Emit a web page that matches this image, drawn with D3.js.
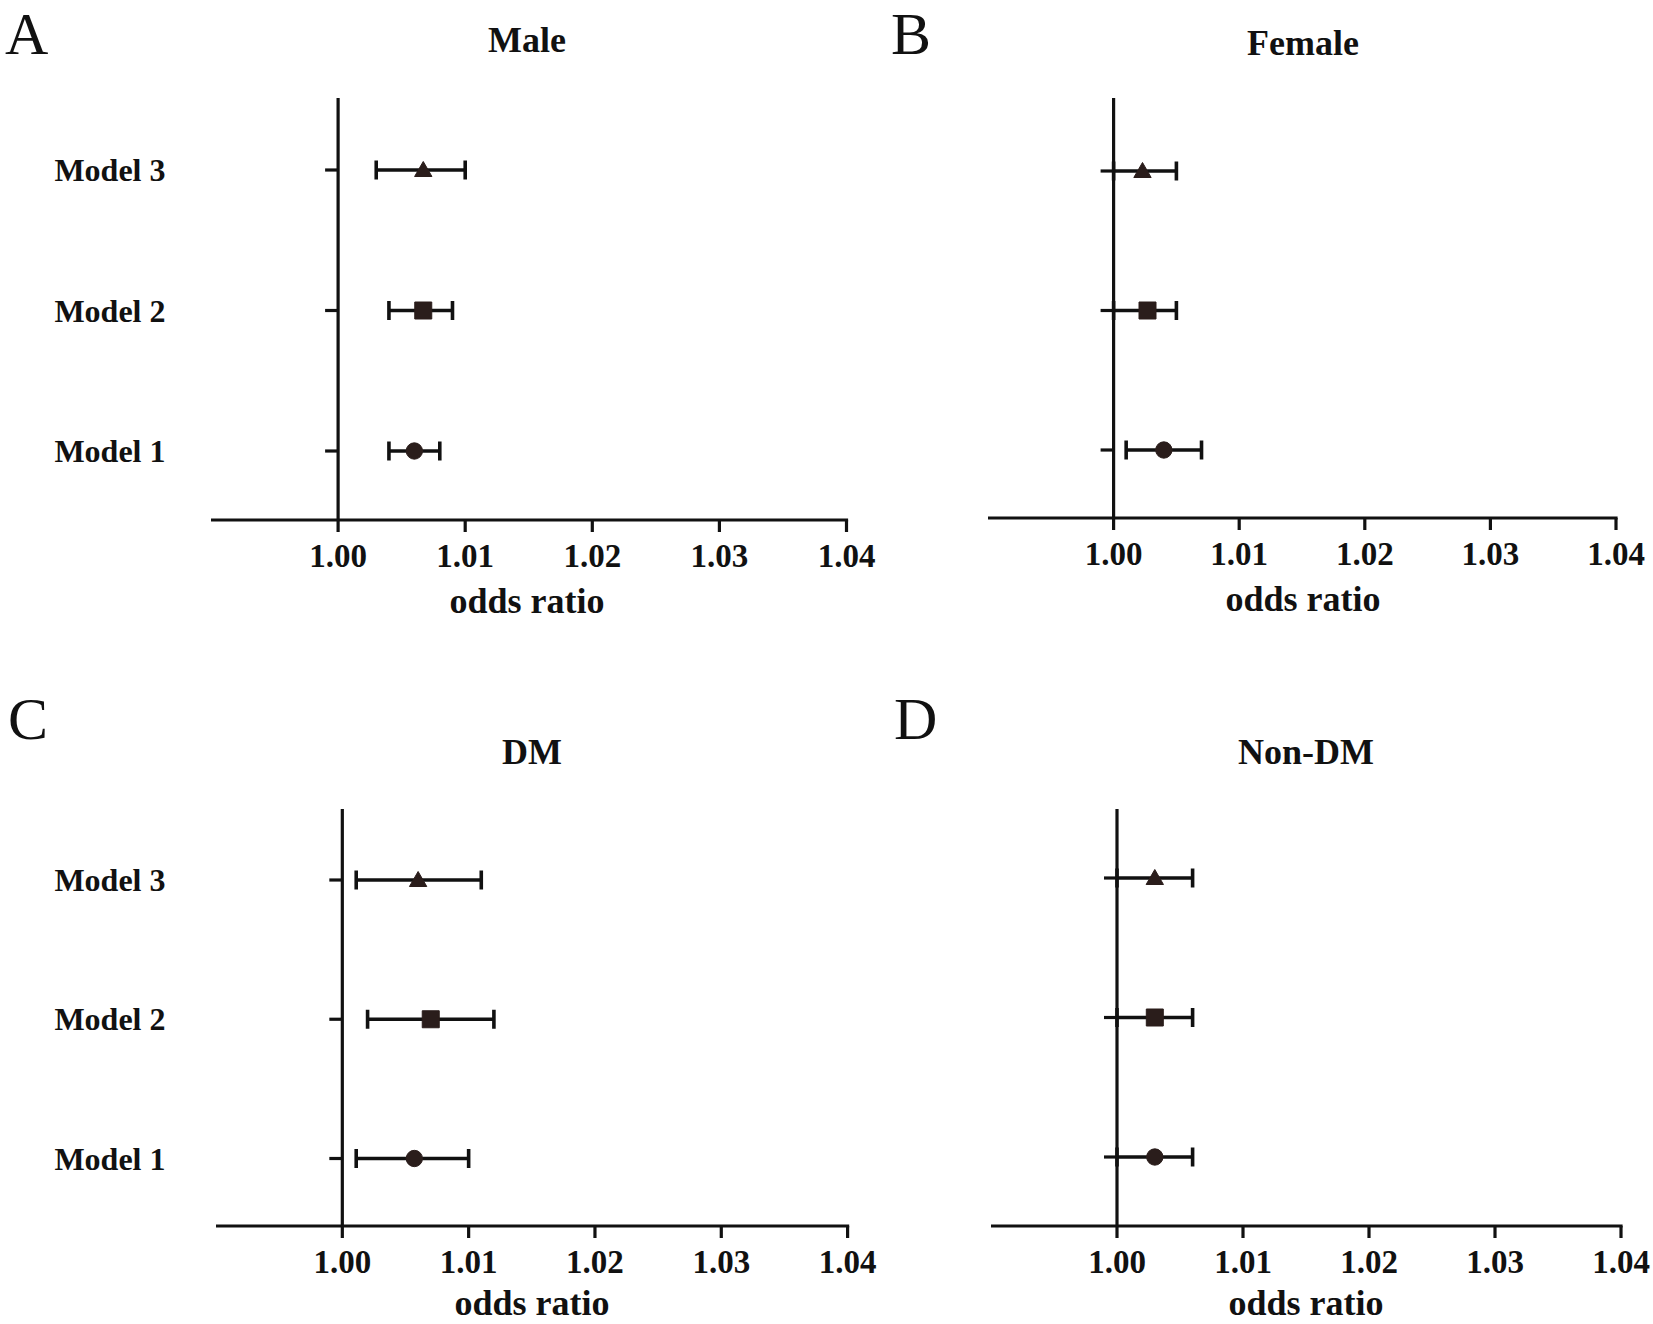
<!DOCTYPE html>
<html>
<head>
<meta charset="utf-8">
<script src="https://cdn.jsdelivr.net/npm/d3@7"></script>
<style>
  body { margin: 0; background: #fff; }
  svg text { font-family: "Liberation Serif", "Times New Roman", serif; fill: #111; }
</style>
</head>
<body>
<svg id="chart" width="1653" height="1324"></svg>
<script>

  // data
  var panelLetters = ["A", "B", "C", "D"];
  var panelTitles = ["Male", "Female", "DM", "Non-DM"];
  var models = ["Model 3", "Model 2", "Model 1"];
  var xTicks = [1.00, 1.01, 1.02, 1.03, 1.04];
  var xDomain = [0.99, 1.04];

  // one row per panel, values in the order of models
  var orEstimate = [
    [1.0067, 1.0067, 1.0060],
    [1.0023, 1.0027, 1.0040],
    [1.0060, 1.0070, 1.0057],
    [1.0030, 1.0030, 1.0030]
  ];
  var orLower = [
    [1.0030, 1.0040, 1.0040],
    [1.0000, 1.0000, 1.0010],
    [1.0011, 1.0020, 1.0011],
    [1.0000, 1.0000, 1.0000]
  ];
  var orUpper = [
    [1.0100, 1.0090, 1.0080],
    [1.0050, 1.0050, 1.0070],
    [1.0110, 1.0120, 1.0100],
    [1.0060, 1.0060, 1.0060]
  ];

  // marker shape per model (triangle, square, circle)
  var shapes = [d3.symbolTriangle, d3.symbolSquare, d3.symbolCircle];
  var shapeSize = [130, 289, 210];
  var shapeShift = [1.5, 0, 0];

  // where each panel sits on the page
  var layout = [
    {left: 211, right: 846.5, base: 520, top: 98,  rows: [170, 451],   titleX: 527,  titleY: 52,  xlabY: 613,  letterX: 5,   letterY: 54,  labels: true},
    {left: 988, right: 1616,  base: 518, top: 98,  rows: [171, 450],   titleX: 1303, titleY: 55,  xlabY: 611,  letterX: 891, letterY: 54,  labels: false},
    {left: 216, right: 847.6, base: 1226, top: 809, rows: [880, 1158.5], titleX: 532,  titleY: 764, xlabY: 1315, letterX: 8,   letterY: 739, labels: true},
    {left: 991, right: 1621,  base: 1226, top: 809, rows: [878, 1157],  titleX: 1306, titleY: 764, xlabY: 1315, letterX: 894, letterY: 739, labels: false}
  ];

  var svg = d3.select("#chart");
  var ink = "#111";
  var markInk = "#2a1d1b";
  var axisW = 3.2, barW = 3.6;

  panelTitles.forEach(function(title, p) {

    var L = layout[p];
    var g = svg.append("g").attr("class", "panel panel" + p);

    var x = d3.scaleLinear().domain(xDomain).range([L.left, L.right]);
    var y = d3.scalePoint().domain(models).range(L.rows);

    var x0 = x(1.00);

    // panel letter and title
    g.append("text")
      .attr("x", L.letterX).attr("y", L.letterY)
      .attr("font-size", "60px")
      .text(panelLetters[p]);

    g.append("text")
      .attr("x", L.titleX).attr("y", L.titleY)
      .attr("text-anchor", "middle")
      .attr("font-size", "36px").attr("font-weight", "bold")
      .text(title);

    // y axis sits at OR = 1
    g.append("line")
      .attr("x1", x0).attr("x2", x0)
      .attr("y1", L.top).attr("y2", L.base)
      .attr("stroke", ink).attr("stroke-width", axisW);

    g.append("line")
      .attr("x1", L.left).attr("x2", L.right + axisW / 2)
      .attr("y1", L.base).attr("y2", L.base)
      .attr("stroke", ink).attr("stroke-width", axisW);

    // x ticks + labels
    g.selectAll(".xtick").data(xTicks).enter().append("line")
      .attr("class", "xtick")
      .attr("x1", function(d) { return x(d); })
      .attr("x2", function(d) { return x(d); })
      .attr("y1", L.base).attr("y2", L.base + 12)
      .attr("stroke", ink).attr("stroke-width", axisW);

    g.selectAll(".xlabel").data(xTicks).enter().append("text")
      .attr("class", "xlabel")
      .attr("x", function(d) { return x(d); })
      .attr("y", L.base + 47)
      .attr("text-anchor", "middle")
      .attr("font-size", "33px").attr("font-weight", "bold")
      .text(function(d) { return d3.format(".2f")(d); });

    g.append("text")
      .attr("x", L.titleX).attr("y", L.xlabY)
      .attr("text-anchor", "middle")
      .attr("font-size", "36px").attr("font-weight", "bold")
      .text("odds ratio");

    // y ticks (short, to the left of the axis)
    g.selectAll(".ytick").data(models).enter().append("line")
      .attr("class", "ytick")
      .attr("x1", x0 - 13).attr("x2", x0)
      .attr("y1", function(d) { return y(d); })
      .attr("y2", function(d) { return y(d); })
      .attr("stroke", ink).attr("stroke-width", axisW);

    if (L.labels) {
      g.selectAll(".ylabel").data(models).enter().append("text")
        .attr("class", "ylabel")
        .attr("x", 165.5)
        .attr("y", function(d) { return y(d); })
        .attr("dy", "0.35em")
        .attr("text-anchor", "end")
        .attr("font-size", "32px").attr("font-weight", "bold")
        .text(function(d) { return d; });
    }

    // confidence intervals
    var rows = models.map(function(m, i) {
      return {model: m, i: i, est: orEstimate[p][i], lo: orLower[p][i], hi: orUpper[p][i]};
    });

    var bars = g.selectAll(".ci").data(rows).enter().append("g").attr("class", "ci");

    bars.append("line")
      .attr("x1", function(d) { return x(d.lo); })
      .attr("x2", function(d) { return x(d.hi); })
      .attr("y1", function(d) { return y(d.model); })
      .attr("y2", function(d) { return y(d.model); })
      .attr("stroke", ink).attr("stroke-width", barW);

    ["lo", "hi"].forEach(function(k) {
      bars.append("line")
        .attr("x1", function(d) { return x(d[k]); })
        .attr("x2", function(d) { return x(d[k]); })
        .attr("y1", function(d) { return y(d.model) - 9.5; })
        .attr("y2", function(d) { return y(d.model) + 9.5; })
        .attr("stroke", ink).attr("stroke-width", barW);
    });

    bars.append("path")
      .attr("d", function(d) { return d3.symbol().type(shapes[d.i]).size(shapeSize[d.i])(); })
      .attr("transform", function(d) {
        return "translate(" + x(d.est) + "," + (y(d.model) + shapeShift[d.i]) + ")";
      })
      .attr("fill", markInk).attr("stroke", markInk).attr("stroke-width", 1);

  });

</script>
</body>
</html>
